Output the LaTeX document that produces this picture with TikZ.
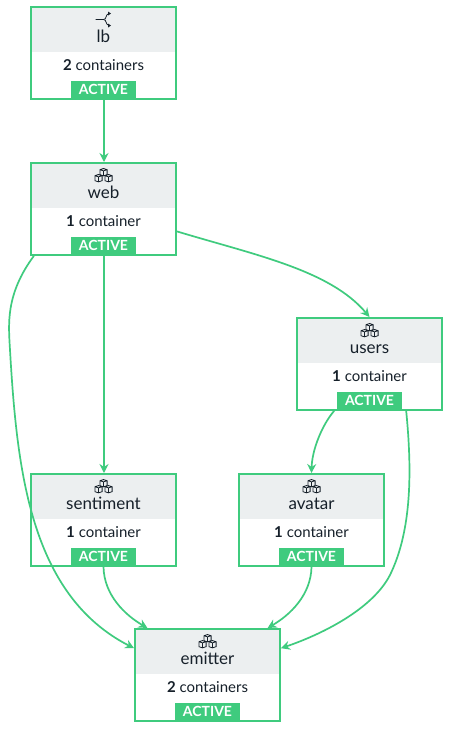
\documentclass[tikz,border=0pt]{standalone}
\usepackage{fontspec}
\setmainfont{Lato}[BoldFont={Lato Bold}]
\usetikzlibrary{arrows.meta}
\definecolor{okgreen}{HTML}{3FCB7E}
\definecolor{headgray}{HTML}{ECEFF0}
\definecolor{inkdark}{HTML}{16202A}
\tikzset{
  x=1pt,y=-1pt,
  svcbox/.style={draw=okgreen,line width=1.9pt,minimum width=145pt,minimum height=92pt,inner sep=0pt,fill=none},
  svchead/.style={fill=headgray,draw=none,minimum width=145pt,minimum height=46pt,inner sep=0pt},
  svctitle/.style={text=inkdark,font=\fontsize{17}{18}\selectfont,inner sep=0pt,anchor=base},
  svccount/.style={text=inkdark,font=\fontsize{15}{16}\selectfont,inner sep=0pt,anchor=base},
  svcbadge/.style={fill=okgreen,text=white,font=\bfseries\fontsize{14}{15}\selectfont,minimum width=65pt,minimum height=16.5pt,inner sep=0pt},
  flow/.style={draw=okgreen,line width=1.7pt,-{Stealth[length=9pt,width=9pt,inset=3pt]}},
  iconline/.style={draw=inkdark,line width=0.8pt},
  pics/cubes/.style={code={
    \foreach \dx/\dy in {0/-3.4,-5/2.6,5/2.6}{
      \draw[iconline,shift={(\dx,\dy)}] (-3.6,-2.4) -- (0,-3.6) -- (3.6,-2.4) -- (3.6,2.6) -- (0,3.8) -- (-3.6,2.6) -- cycle (-3.6,-2.4) -- (0,-1.2) -- (3.6,-2.4) (0,-1.2) -- (0,3.8);
    }
  }},
  pics/fork/.style={code={
    \draw[iconline] (-8,0) -- (0,0) .. controls (3.5,0) and (1.5,-5) .. (5.5,-6);
    \draw[iconline] (0,0) .. controls (3.5,0) and (1.5,5) .. (5.5,6);
    \fill[inkdark] (7.5,-6) -- (4.5,-8) -- (4.5,-4) -- cycle;
    \fill[inkdark] (7.5,6) -- (4.5,8) -- (4.5,4) -- cycle;
  }},
}
% name, centre x, top y, icon, title, bold count, rest
\newcommand{\svcnode}[7]{%
  \node[svchead,anchor=north] (#1-head) at (#2,#3) {};
  \pic at (#2,#3+13.5) {#4};
  \node[svctitle] (#1-title) at (#2,#3+36) {#5};
  \node[svccount] (#1-count) at (#2,#3+64) {\textbf{#6} #7};
  \node[svcbadge,anchor=south] (#1-badge) at (#2,#3+92) {\raisebox{-1.6pt}{ACTIVE}};
  \node[svcbox,anchor=north] (#1) at (#2,#3) {};
}
\begin{document}
\begin{tikzpicture}
\useasboundingbox (0,0) rectangle (451,731);
\fill[white] (0,0) rectangle (451,731);
\svcnode{lb}{103.5}{6}{fork}{lb}{2}{containers}
\svcnode{web}{103.5}{162}{cubes}{web}{1}{container}
\svcnode{users}{369.5}{317}{cubes}{users}{1}{container}
\svcnode{sentiment}{103.5}{473}{cubes}{sentiment}{1}{container}
\svcnode{avatar}{311.5}{473}{cubes}{avatar}{1}{container}
\svcnode{emitter}{207.5}{628}{cubes}{emitter}{2}{containers}
\draw[flow] ([xshift=0.5pt]lb.south) -- ([xshift=0.5pt]web.north);
\draw[flow] ([xshift=0.5pt]web.south) -- ([xshift=0.5pt]sentiment.north);
\draw[flow] (web.-17) .. controls (255,255) and (330,270) .. (users.north);
\draw[flow] (web.214) .. controls (5,295) and (8.6,325) .. (10,350) .. controls (17,470) and (30,595) .. (emitter.160);
\draw[flow] (users.233) .. controls (322,425) and (312,450) .. (avatar.north);
\draw[flow] (users.-52) .. controls (412,470) and (412,530) .. (390,575) .. controls (372,610) and (320,635) .. (emitter.20);
\draw[flow] (sentiment.south) .. controls (104,595) and (125,615) .. (emitter.142);
\draw[flow] (avatar.south) .. controls (311,595) and (290,615) .. (emitter.38);
\end{tikzpicture}
\end{document}
